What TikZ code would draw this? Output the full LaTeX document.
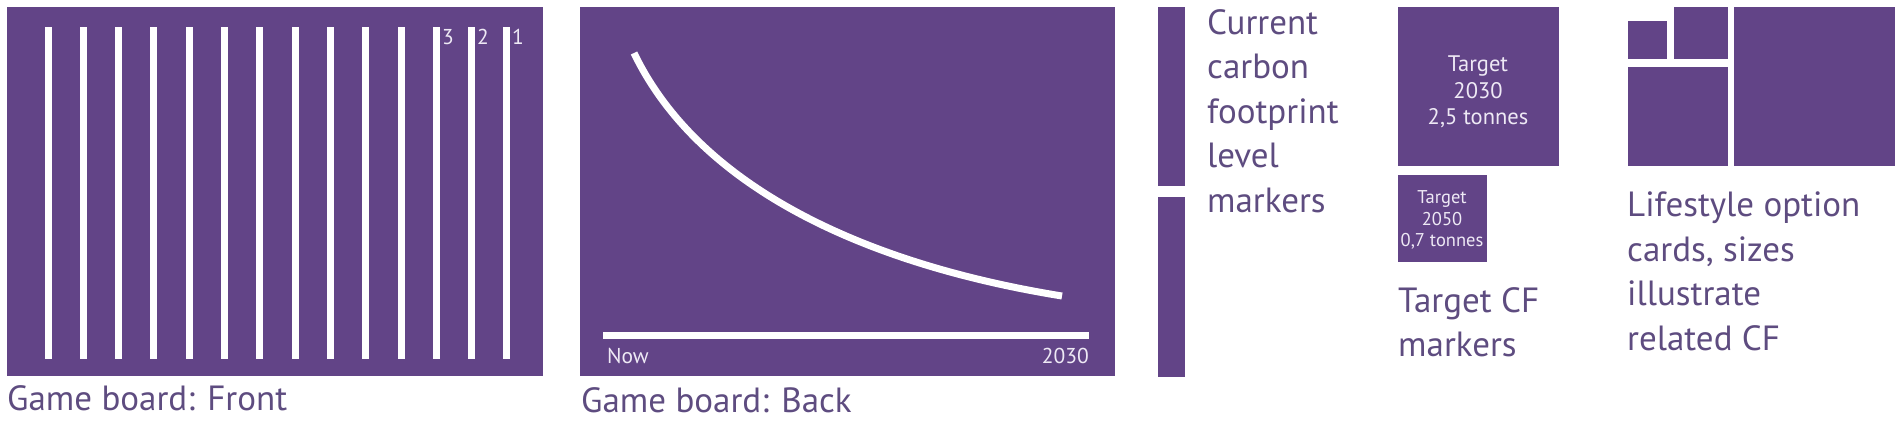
\documentclass[tikz,border=0pt]{standalone}
\usepackage{fontspec}
\setmainfont{PT Sans}
\definecolor{cardpurple}{RGB}{98,68,135}
\definecolor{labelpurple}{RGB}{94,76,128}
\definecolor{paletext}{RGB}{238,233,245}
\begin{document}
\begin{tikzpicture}[x=1pt,y=-1pt]
  \tikzset{
    card/.style={fill=cardpurple},
    stripe/.style={draw=white,line width=7pt},
    caption/.style={text=labelpurple,inner sep=0pt,align=left,anchor=north west,
      font=\fontsize{35}{44.5}\selectfont},
    boardtext/.style={text=paletext,inner sep=0pt,font=\fontsize{21.5}{26}\selectfont},}
  \useasboundingbox[fill=white] (0,0) rectangle (1902,423);
  % game board: front
  \fill[card] (7,7) rectangle (543,376);
  \foreach \i in {0,...,13}
    \draw[stripe] ({48+35.3*\i},27) -- ({48+35.3*\i},359);
  \node[boardtext,anchor=north west] (lvl3) at (442,29) {3};
  \node[boardtext,anchor=north west] (lvl2) at (477,29) {2};
  \node[boardtext,anchor=north west] (lvl1) at (512,29) {1};
  \node[caption] (frontcap) at (7,385) {Game board: Front};
  % game board: back
  \fill[card] (580,7) rectangle (1115,376);
  \draw[stripe] (634,53) .. controls (700,190) and (870,265) .. (1062,296);
  \draw[stripe] (603,335) -- (1089,335);
  \node[boardtext,anchor=north west] (now) at (607,348) {Now};
  \node[boardtext,anchor=north east] (year) at (1089,348) {2030};
  \node[caption] (backcap) at (581,387) {Game board: Back};
  % level markers
  \fill[card] (1158,7) rectangle (1185,186);
  \fill[card] (1158,197) rectangle (1185,377);
  \node[caption] (levelcap) at (1207,9) {Current\\carbon\\footprint\\level\\markers};
  % target markers
  \fill[card] (1398,7) rectangle (1559,166);
  \fill[card] (1398,175) rectangle (1487,262);
  \node[boardtext,align=center,font=\fontsize{22.5}{26.5}\selectfont] (t2030) at (1478,92)
    {Target\\2030\\2,5 tonnes};
  \node[boardtext,align=center,font=\fontsize{18.5}{21.5}\selectfont] (t2050) at (1442,220)
    {Target\\2050\\0,7 tonnes};
  \node[caption] (targetcap) at (1398,287) {Target CF\\markers};
  % lifestyle cards
  \fill[card] (1628,21) rectangle (1667,59);
  \fill[card] (1674,7) rectangle (1728,59);
  \fill[card] (1628,67) rectangle (1728,166);
  \fill[card] (1734,7) rectangle (1895,166);
  \node[caption] (cardcap) at (1627,192) {Lifestyle option\\cards, sizes\\illustrate\\related CF};
\end{tikzpicture}
\end{document}
